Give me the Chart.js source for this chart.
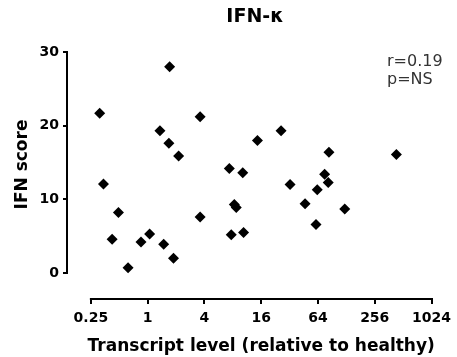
<!DOCTYPE html>
<html>
<head>
<meta charset="utf-8">
<script src="https://cdn.jsdelivr.net/npm/chart.js@4"></script>
<style>
  body { margin: 0; background: #fff; }
  canvas { display: block; }
</style>
</head>
<body>
<canvas id="ifnChart" width="457" height="357"></canvas>
<script>
// transcript level (x) and IFN score (y) for each sample
const transcriptLevel = [0.31, 0.34, 0.49, 0.42, 0.62, 0.85, 1.05, 1.48, 1.88, 1.35, 1.68, 2.13, 1.71, 3.6, 3.6, 7.35,
  10.2, 8.3, 8.7, 7.7, 10.4, 14.6, 26, 83.6, 434, 32.4, 75.3, 82.2, 62.9, 46.7, 123, 61];
const ifnScore = [21.7, 12.1, 8.2, 4.6, 0.7, 4.2, 5.3, 3.9, 2.0, 19.3, 17.6, 15.9, 28.0, 21.2, 7.6, 14.2,
  13.6, 9.3, 8.9, 5.2, 5.5, 18.0, 19.3, 16.4, 16.1, 12.0, 13.4, 12.3, 11.3, 9.4, 8.7, 6.6];

const xTicks = [0.25, 1, 4, 16, 64, 256, 1024];
const yTicks = [0, 10, 20, 30];

const chartTitle = "IFN-κ";
const xTitle = "Transcript level (relative to healthy)";
const yTitle = "IFN score";
const statsText = ["r=0.19", "p=NS"];

const FONT = "'DejaVu Sans', sans-serif";

// axis lines only span the tick range, titles centred on them
const prismAxes = {
  id: "prismAxes",
  afterDraw(chart) {
    const { ctx, scales: { x, y }, chartArea } = chart;
    const xa = x.getPixelForValue(xTicks[0]);
    const xb = x.getPixelForValue(xTicks[xTicks.length - 1]);
    const ya = y.getPixelForValue(yTicks[0]);
    const yb = y.getPixelForValue(yTicks[yTicks.length - 1]);

    ctx.save();
    ctx.strokeStyle = "#000";
    ctx.lineWidth = 2;
    ctx.beginPath();
    ctx.moveTo(chartArea.left - 1, ya + 1);
    ctx.lineTo(chartArea.left - 1, yb - 1);
    ctx.moveTo(xa - 1, chartArea.bottom + 1);
    ctx.lineTo(xb + 1, chartArea.bottom + 1);
    ctx.stroke();

    ctx.fillStyle = "#000";
    ctx.textAlign = "center";
    ctx.textBaseline = "alphabetic";
    ctx.font = "bold 19px " + FONT;
    ctx.fillText(chartTitle, 255, 22);

    ctx.font = "bold 17px " + FONT;
    ctx.fillText(xTitle, (xa + xb) / 2, 351);

    ctx.save();
    ctx.translate(27, (ya + yb) / 2 + 2);
    ctx.rotate(-Math.PI / 2);
    ctx.fillText(yTitle, 0, 0);
    ctx.restore();

    ctx.fillStyle = "#333";
    ctx.textAlign = "left";
    ctx.font = "16px " + FONT;
    statsText.forEach((t, i) => ctx.fillText(t, 387, 66 + i * 18));
    ctx.restore();
  },
};

const ctx = document.getElementById("ifnChart").getContext("2d");
new Chart(ctx, {
  type: "scatter",
  data: {
    datasets: [
      {
        data: transcriptLevel.map((v, i) => ({ x: v, y: ifnScore[i] })),
        pointStyle: "rectRot",
        pointRadius: 5.5,
        pointBorderWidth: 0,
        backgroundColor: "#000",
        borderColor: "#000",
      },
    ],
  },
  options: {
    responsive: false,
    animation: false,
    layout: { padding: { top: 52, right: 24, left: 0, bottom: 0 } },
    plugins: {
      legend: { display: false },
      title: { display: false },
      tooltip: { enabled: false },
    },
    scales: {
      x: {
        type: "logarithmic",
        min: 0.143,
        max: 1024,
        afterBuildTicks: (scale) => {
          scale.ticks = xTicks.map((v) => ({ value: v }));
        },
        afterFit: (scale) => {
          scale.height = 59;
        },
        border: { display: false },
        grid: { drawOnChartArea: false, drawTicks: true, tickLength: 6, lineWidth: 2, color: "#000" },
        ticks: {
          autoSkip: false,
          maxRotation: 0,
          padding: 6,
          color: "#000",
          font: { family: FONT, size: 14, weight: "bold" },
          callback: (v) => String(v),
        },
      },
      y: {
        min: -3.39,
        max: 30,
        afterBuildTicks: (scale) => {
          scale.ticks = yTicks.map((v) => ({ value: v }));
        },
        afterFit: (scale) => {
          scale.width = 68;
        },
        border: { display: false },
        grid: { drawOnChartArea: false, drawTicks: true, tickLength: 5, lineWidth: 2, color: "#000" },
        ticks: {
          padding: 4,
          color: "#000",
          font: { family: FONT, size: 14, weight: "bold" },
        },
      },
    },
  },
  plugins: [prismAxes],
});
</script>
</body>
</html>
